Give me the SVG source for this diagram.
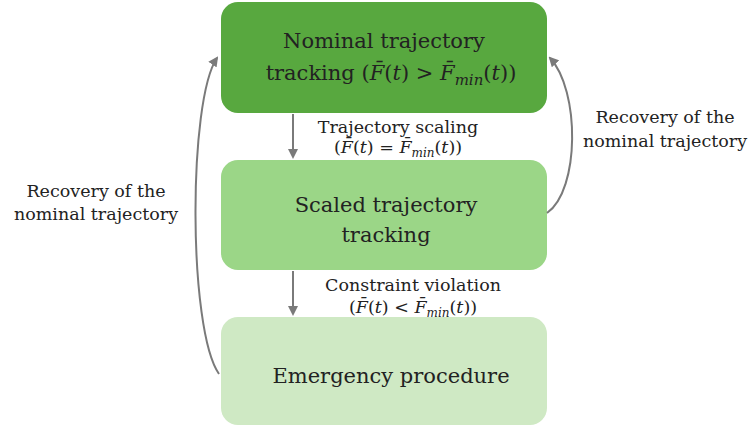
<svg xmlns="http://www.w3.org/2000/svg" width="754" height="430" viewBox="0 0 754 430">
  <style>
    text { font-family: "DejaVu Serif", "Liberation Serif", "Noto Serif", serif; fill: #222222; text-anchor: middle; }
    .big { font-size: 21px; }
    .small { font-size: 17.5px; }
    .it { font-style: italic; }
    .edge { fill: none; stroke: #7a7a7a; stroke-width: 2; }
  </style>
  <defs>
    <marker id="arrow" viewBox="0 0 10 10" refX="8" refY="5" markerWidth="5" markerHeight="5" orient="auto" markerUnits="strokeWidth">
      <path d="M0,0 L10,5 L0,10 z" fill="#7a7a7a"/>
    </marker>
  </defs>
  <rect width="754" height="430" fill="#ffffff"/>

  <g id="nominal">
    <rect x="221" y="2" width="326" height="111" rx="17" fill="#58a83f"/>
    <text class="big" x="384" y="48">Nominal trajectory</text>
    <text class="big" x="391" y="80">tracking (<tspan class="it">F̄</tspan>(<tspan class="it">t</tspan>) &gt; <tspan class="it">F̄</tspan><tspan class="it" font-size="15" dy="5">min</tspan><tspan dy="-5">(</tspan><tspan class="it">t</tspan>))</text>
  </g>

  <g id="scaled">
    <rect x="221" y="160" width="326" height="110" rx="17" fill="#9bd687"/>
    <text class="big" x="386" y="212">Scaled trajectory</text>
    <text class="big" x="386" y="242">tracking</text>
  </g>

  <g id="emergency">
    <rect x="221" y="317" width="326" height="108" rx="17" fill="#cfe9c4"/>
    <text class="big" x="391" y="383">Emergency procedure</text>
  </g>

  <g id="connectors">
    <path class="edge" d="M293,114 L293,157" marker-end="url(#arrow)"/>
    <path class="edge" d="M293,271 L293,314" marker-end="url(#arrow)"/>
    <path class="edge" d="M219,374 C188,330 188,100 217,58" marker-end="url(#arrow)"/>
    <path class="edge" d="M547,213 C580,190 580,90 550,58" marker-end="url(#arrow)"/>
  </g>

  <g id="labels">
    <text class="small" x="398" y="133">Trajectory scaling</text>
    <text class="small" x="398" y="153">(<tspan class="it">F̄</tspan>(<tspan class="it">t</tspan>) = <tspan class="it">F̄</tspan><tspan class="it" font-size="12" dy="4">min</tspan><tspan dy="-4">(</tspan><tspan class="it">t</tspan>))</text>
    <text class="small" x="413" y="291">Constraint violation</text>
    <text class="small" x="413" y="313">(<tspan class="it">F̄</tspan>(<tspan class="it">t</tspan>) &lt; <tspan class="it">F̄</tspan><tspan class="it" font-size="12" dy="4">min</tspan><tspan dy="-4">(</tspan><tspan class="it">t</tspan>))</text>
    <text class="small" x="96" y="197">Recovery of the</text>
    <text class="small" x="96" y="220">nominal trajectory</text>
    <text class="small" x="665" y="123">Recovery of the</text>
    <text class="small" x="665" y="147">nominal trajectory</text>
  </g>
</svg>
